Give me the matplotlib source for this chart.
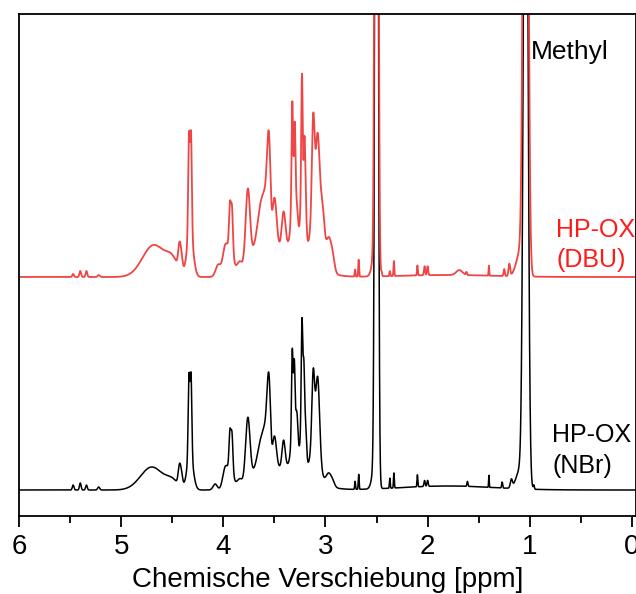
import matplotlib
matplotlib.use("Agg")
import matplotlib.pyplot as plt
import numpy as np

plt.rcParams['font.family'] = ['Liberation Sans', 'DejaVu Sans']

# Line tables: position [ppm], height [a.u.], width (sigma) [ppm]
nbr_pos = [5.47, 5.40, 5.34, 5.22,
           4.70, 4.50, 4.43, 4.41,
           4.325, 4.336, 4.316, 4.08,
           3.98, 3.925, 3.935, 3.915, 3.84,
           3.76, 3.70, 3.63, 3.59, 3.56, 3.545, 3.50, 3.41,
           3.315, 3.325, 3.305, 3.28, 3.225, 3.23, 3.212, 3.195,
           3.10, 3.12, 3.075, 2.97, 2.93, 3.35,
           2.71, 2.675, 2.52, 2.50,
           2.37, 2.33, 2.10, 2.03, 2.00, 1.80,
           1.61, 1.40, 1.27, 1.18, 1.09, 1.04, 0.96]
nbr_height = [5, 7, 5, 3,
              23, 8, 18, 12,
              35, 80, 80, 6,
              22, 20, 35, 35, 10,
              68, 10, 40, 25, 75, 30, 35, 26,
              40, 80, 65, 45, 50, 100, 60, 30,
              40, 70, 70, 12, 5, 25,
              8, 15, 20, 1500,
              10, 15, 12, 6, 6, 4,
              5, 12, 6, 8, 20, 900, 4]
nbr_width = [0.008, 0.008, 0.008, 0.01,
             0.11, 0.06, 0.012, 0.012,
             0.03, 0.008, 0.008, 0.02,
             0.025, 0.025, 0.009, 0.009, 0.03,
             0.022, 0.03, 0.035, 0.02, 0.016, 0.012, 0.02, 0.015,
             0.02, 0.007, 0.007, 0.012, 0.02, 0.007, 0.007, 0.01,
             0.04, 0.013, 0.018, 0.025, 0.02, 0.2,
             0.004, 0.004, 0.025, 0.013,
             0.004, 0.004, 0.004, 0.006, 0.006, 0.45,
             0.005, 0.003, 0.005, 0.01, 0.04, 0.02, 0.005]

dbu_pos = [5.47, 5.40, 5.34, 5.22,
           4.68, 4.50, 4.43, 4.41,
           4.325, 4.336, 4.316, 4.05,
           3.98, 3.925, 3.935, 3.915, 3.84,
           3.76, 3.70, 3.63, 3.59, 3.56, 3.545, 3.50, 3.41,
           3.315, 3.325, 3.30, 3.28, 3.225, 3.23, 3.205, 3.195,
           3.10, 3.12, 3.075, 3.03, 2.97, 2.93, 3.35,
           2.71, 2.675, 2.52, 2.50,
           2.45, 2.37, 2.33, 2.10, 2.03, 2.00, 1.80,
           1.69, 1.62, 1.40, 1.25, 1.20, 1.09, 1.04]
dbu_height = [3, 6, 6, 2,
              32, 14, 22, 14,
              45, 98, 98, 12,
              30, 28, 40, 40, 14,
              82, 16, 60, 30, 92, 35, 55, 35,
              55, 95, 75, 30, 60, 118, 60, 30,
              55, 95, 82, 50, 32, 14, 32,
              7, 17, 20, 1500,
              4, 5, 15, 10, 9, 9, 2,
              5, 3, 10, 7, 12, 25, 1000]
dbu_width = [0.008, 0.008, 0.008, 0.01,
             0.11, 0.06, 0.012, 0.012,
             0.03, 0.008, 0.008, 0.025,
             0.025, 0.025, 0.009, 0.009, 0.03,
             0.022, 0.03, 0.035, 0.02, 0.016, 0.012, 0.022, 0.018,
             0.02, 0.007, 0.007, 0.012, 0.02, 0.007, 0.007, 0.01,
             0.04, 0.013, 0.018, 0.02, 0.025, 0.02, 0.2,
             0.004, 0.004, 0.025, 0.013,
             0.004, 0.004, 0.004, 0.004, 0.006, 0.006, 0.45,
             0.03, 0.005, 0.003, 0.006, 0.008, 0.04, 0.02]

dbu_offset = 213

ppm = np.linspace(6.2, -0.2, 8000)


def spectrum(pos, height, width):
    y = np.zeros_like(ppm)
    for p, h, w in zip(pos, height, width):
        y += h * np.exp(-(ppm - p)**2 / (2 * w**2))
    return y


nbr = spectrum(nbr_pos, nbr_height, nbr_width)
dbu = spectrum(dbu_pos, dbu_height, dbu_width) + dbu_offset

fig = plt.figure(figsize=(6.36, 5.94), dpi=100)
ax = fig.add_axes([19 / 636, 1 - 516 / 594, 1 - 19 / 636, (516 - 14) / 594])

ax.plot(ppm, nbr, color='black', lw=1.1)
ax.plot(ppm, dbu, color='#f04545', lw=1.3)

ax.set_xlim(6, -0.04)
ax.set_ylim(-26, 476)

ax.set_xticks([6, 5, 4, 3, 2, 1, 0])
ax.set_xticks(np.arange(0.5, 6, 1.0), minor=True)
ax.set_yticks([])
ax.tick_params(axis='x', which='major', length=8, width=1.3, labelsize=20, pad=5)
ax.tick_params(axis='x', which='minor', length=5, width=1.3)
for s in ax.spines.values():
    s.set_linewidth(1.3)

ax.set_xlabel('Chemische Verschiebung [ppm]', fontsize=20, labelpad=5)

ax.text(0.985, 490 - 59, 'Methyl', fontsize=19, color='black', va='baseline', ha='left')
ax.text(0.74, 490 - 237, 'HP-OX', fontsize=18, color='#ff1a1a', va='baseline', ha='left')
ax.text(0.74, 490 - 267, '(DBU)', fontsize=18, color='#ff1a1a', va='baseline', ha='left')
ax.text(0.78, 490 - 442, 'HP-OX', fontsize=18, color='black', va='baseline', ha='left')
ax.text(0.78, 490 - 473, '(NBr)', fontsize=18, color='black', va='baseline', ha='left')

fig.savefig('out.png', dpi=100)
